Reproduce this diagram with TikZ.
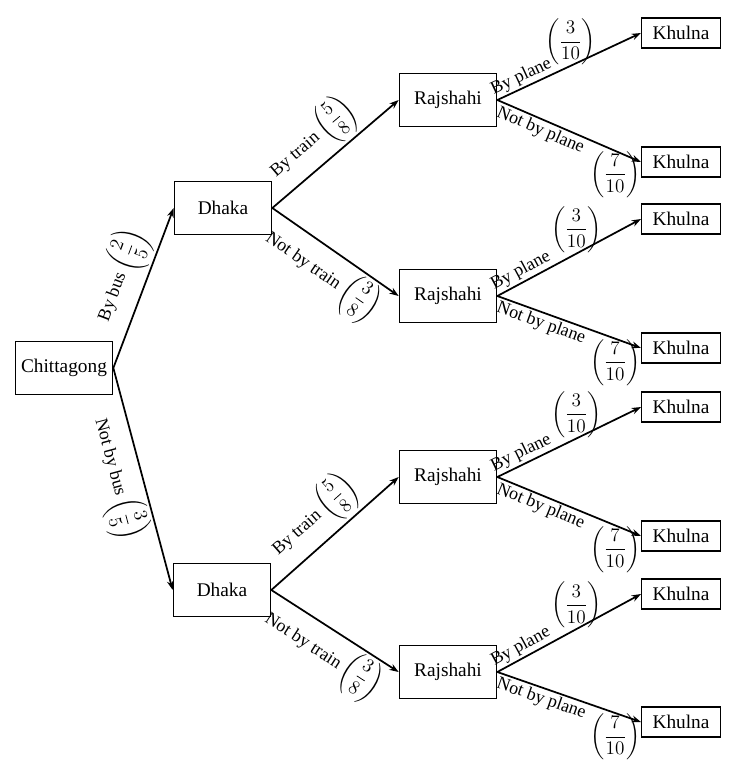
\documentclass[tikz,border=0pt]{standalone}
\usepackage{amsmath}
\usepackage{fontspec}
\setmainfont{Liberation Serif}
\usetikzlibrary{arrows.meta}
\newcommand{\pfrac}[2]{$\left(\dfrac{#1}{#2}\right)$}
\begin{document}
\begin{tikzpicture}[x=0.75pt,y=-0.75pt,
  bigbox/.style={draw, line width=1pt, minimum width=73pt, minimum height=40pt, inner sep=0pt, font=\fontsize{14.5}{16}\selectfont},
  smallbox/.style={draw, line width=1pt, minimum width=59pt, minimum height=22.5pt, inner sep=0pt, font=\fontsize{14.5}{16}\selectfont},
  arr/.style={line width=1.3pt, -{Stealth[length=7pt,width=5pt]}},
  lab/.style={sloped, font=\fontsize{13.5}{15}\selectfont, inner sep=1.5pt},
  fr/.style={font=\fontsize{13.5}{15}\selectfont, inner sep=0pt}
]
\useasboundingbox (0,0) rectangle (732,765);

\node[bigbox] (C) at (64,368) {Chittagong};
\node[bigbox] (D1) at (223,208) {Dhaka};
\node[bigbox] (D2) at (222,590) {Dhaka};
\node[bigbox] (R1) at (448,100) {Rajshahi};
\node[bigbox] (R2) at (448,296) {Rajshahi};
\node[bigbox] (R3) at (448,477) {Rajshahi};
\node[bigbox] (R4) at (448,672) {Rajshahi};
\node[smallbox] (K1) at (681,33) {Khulna};
\node[smallbox] (K2) at (681,162) {Khulna};
\node[smallbox] (K3) at (681,219) {Khulna};
\node[smallbox] (K4) at (681,348) {Khulna};
\node[smallbox] (K5) at (681,407) {Khulna};
\node[smallbox] (K6) at (681,536) {Khulna};
\node[smallbox] (K7) at (681,594) {Khulna};
\node[smallbox] (K8) at (681,722) {Khulna};

\draw[arr] (C.east) -- node[lab, above, pos=0.52]{By bus \pfrac{2}{5}} (D1.west);
\draw[arr] (C.east) -- node[lab, below, pos=0.47]{Not by bus \pfrac{3}{5}} (D2.west);

\draw[arr] (D1.east) -- node[lab, above, pos=0.45]{By train \pfrac{5}{8}} (R1.west);
\draw[arr] (D1.east) -- node[lab, below, pos=0.51]{Not by train \pfrac{3}{8}} (R2.west);
\draw[arr] (D2.east) -- node[lab, above, pos=0.47]{By train \pfrac{5}{8}} (R3.west);
\draw[arr] (D2.east) -- node[lab, below, pos=0.51]{Not by train \pfrac{3}{8}} (R4.west);

\draw[arr] (R1.east) -- node[lab, above, pos=0.2]{By plane} node[fr, above, pos=0.51]{\pfrac{3}{10}} (K1.west);
\draw[arr] (R1.east) -- node[lab, below, pos=0.33]{Not by plane} node[fr, below, pos=0.82]{\pfrac{7}{10}} (K2.west);
\draw[arr] (R2.east) -- node[lab, above, pos=0.2]{By plane} node[fr, above, pos=0.55]{\pfrac{3}{10}} (K3.west);
\draw[arr] (R2.east) -- node[lab, below, pos=0.33]{Not by plane} node[fr, below, pos=0.82]{\pfrac{7}{10}} (K4.west);
\draw[arr] (R3.east) -- node[lab, above, pos=0.2]{By plane} node[fr, above, pos=0.55]{\pfrac{3}{10}} (K5.west);
\draw[arr] (R3.east) -- node[lab, below, pos=0.33]{Not by plane} node[fr, below, pos=0.82]{\pfrac{7}{10}} (K6.west);
\draw[arr] (R4.east) -- node[lab, above, pos=0.2]{By plane} node[fr, above, pos=0.55]{\pfrac{3}{10}} (K7.west);
\draw[arr] (R4.east) -- node[lab, below, pos=0.33]{Not by plane} node[fr, below, pos=0.82]{\pfrac{7}{10}} (K8.west);
\end{tikzpicture}
\end{document}
